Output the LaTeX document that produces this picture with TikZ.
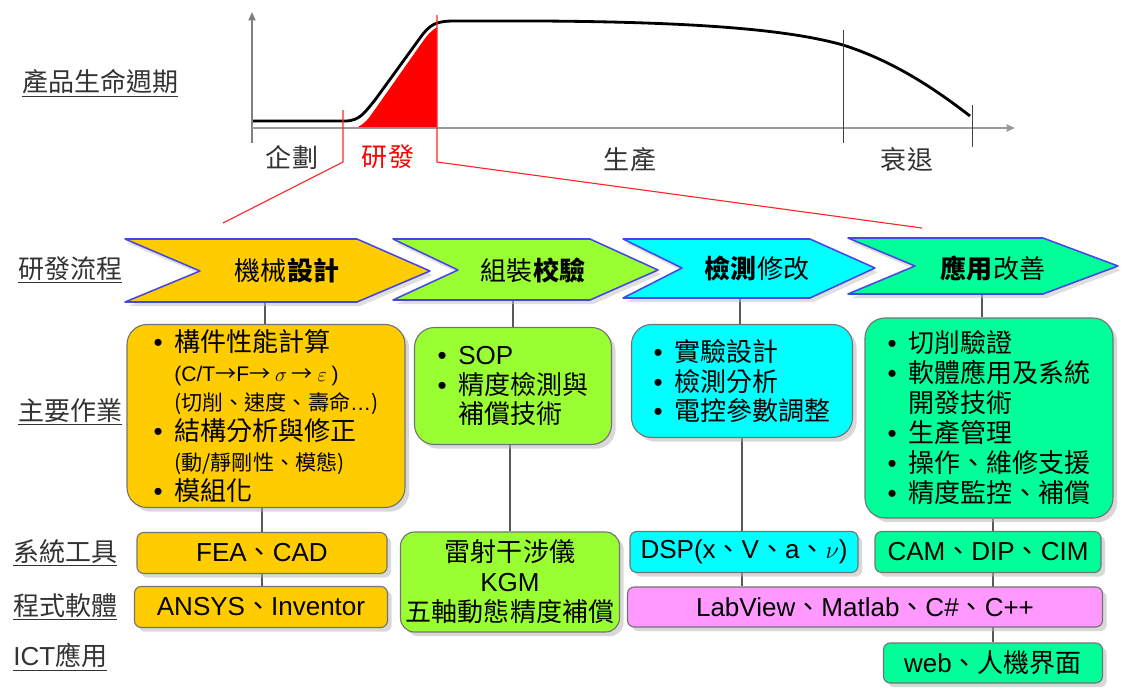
\documentclass[tikz,border=0pt]{standalone}
\usepackage{fontspec}
\setmainfont{Noto Sans CJK TC}
\newfontfamily\lat{Liberation Sans}
\usepackage{tikz}
\usetikzlibrary{shadows,arrows.meta,backgrounds}
\definecolor{cYel}{HTML}{FFCC00}
\definecolor{cLime}{HTML}{99FF33}
\definecolor{cCyan}{HTML}{00FFFF}
\definecolor{cMint}{HTML}{00FF99}
\definecolor{cPink}{HTML}{FF99FF}
\definecolor{cEdge}{HTML}{4646E6}
\tikzset{
	task/.style={draw=black!55,line width=0.8pt,rounded corners=0.5cm,inner sep=0pt,align=left,drop shadow={shadow xshift=3pt,shadow yshift=-3pt,fill=black!30}},
	tool/.style={task,rounded corners=0.17cm,align=center},
	sz/.style 2 args={minimum width=#1*0.025cm,minimum height=#2*0.025cm},
	chev/.style={draw=cEdge,line width=1.1pt,line join=round,drop shadow={shadow xshift=2pt,shadow yshift=-3pt,fill=black!25}},
	side/.style={anchor=west,inner sep=0pt,text=black!80},
	stage/.style={text=black!80},
	link/.style={draw=black!65,line width=0.8pt},
	zoomline/.style={draw=red!85,line width=0.8pt}
}
\newcommand\bul{\makebox[0.8em][l]{\lat •}}
\newcommand\indt{\makebox[0.8em]{}}
\newcommand\smtxt[1]{{\fontsize{15}{21.3}\selectfont #1}}

\begin{document}
\begin{tikzpicture}[x=0.025cm,y=-0.025cm,font=\fontsize{18.5}{21.3}\selectfont]
	\useasboundingbox (0,0) rectangle (1121,691);

	\draw[gray,line width=1.2pt,-{Triangle[length=6pt,width=5pt]}] (252,143) -- (252,12);
	\draw[gray!80,line width=1.6pt,-{Triangle[length=6pt,width=5pt]}] (252,128) -- (1015,128);
	\fill[red] (358,127) .. controls (366,122) .. (376,108) -- (421,44) .. controls (429,33) .. (437,27) -- (437,127) -- cycle;
	\draw[line width=2pt] (253,121) -- (345,121) .. controls (360,121) and (365,112) .. (375,100) -- (420,38) .. controls (430,24) and (436,21) .. (455,21) -- (540,21) .. controls (700,22) and (790,30) .. (843,45) .. controls (890,60) and (930,85) .. (970,116);
	\draw[black!75] (843,30) -- (843,143);
	\draw[black!75] (972,105) -- (972,147);
	\draw[zoomline] (343,110) -- (343,162) -- (223,223);
	\draw[zoomline] (437,15) -- (437,162) -- (922,228);

	\node[stage] (plan) at (292,157) {企劃};
	\node[stage,text=red] (rd) at (388,157) {研發};
	\node[stage] (prod) at (630,160) {生產};
	\node[stage] (decl) at (907,160) {衰退};

	\node[side] (lcyc) at (22,83) {\underline{產品生命週期}};
	\node[side] (lflow) at (18,270) {\underline{研發流程}};
	\node[side] (lwork) at (18,412) {\underline{主要作業}};
	\node[side] (ltool) at (13,553) {\underline{系統工具}};
	\node[side] (lsoft) at (13,607) {\underline{程式軟體}};
	\node[side] (lict) at (13,657) {\underline{{\lat ICT}應用}};

	\path[chev,fill=cYel] (125,239) -- (357,239) -- (430,271) -- (357,302) -- (125,302) -- (200,271) -- cycle;
	\path[chev,fill=cLime] (393,239) -- (590,239) -- (658,270) -- (590,300) -- (393,300) -- (458,270) -- cycle;
	\path[chev,fill=cCyan] (623,239) -- (810,239) -- (875,268) -- (810,298) -- (623,298) -- (682,268) -- cycle;
	\path[chev,fill=cMint] (848,238) -- (1043,238) -- (1118,266) -- (1043,294) -- (848,294) -- (915,266) -- cycle;
	\node (chA) at (287,271) {機械\textbf{設計}};
	\node (chB) at (533,270) {組裝\textbf{校驗}};
	\node (chC) at (757,268) {\textbf{檢測}修改};
	\node (chD) at (993,268) {\textbf{應用}改善};
	\coordinate (chAb) at (265,302);
	\coordinate (chBb) at (513,300);
	\coordinate (chCb) at (740,298);
	\coordinate (chDb) at (982,294);

	\node[task,fill=cYel,sz={278}{183}] (boxA) at (266,416) {\bul 構件性能計算\\\indt\smtxt{{\lat (C/T}→{\lat F}→ $\sigma$ → $\varepsilon$ {\lat )}}\\\indt\smtxt{(切削、速度、壽命{\lat …})}\\\bul 結構分析與修正\\\indt\smtxt{(動/靜剛性、模態)}\\\bul 模組化};
	\node[task,fill=cLime,sz={197}{117}] (boxB) at (513,386) {\bul {\lat SOP}\\\bul 精度檢測與\\\indt 補償技術};
	\node[task,fill=cCyan,sz={221}{113}] (boxC) at (742,381) {\bul 實驗設計\\\bul 檢測分析\\\bul 電控參數調整};
	\node[task,fill=cMint,sz={248}{200}] (boxD) at (989,418) {\bul 切削驗證\\\bul 軟體應用及系統\\\indt 開發技術\\\bul 生產管理\\\bul 操作、維修支援\\\bul 精度監控、補償};

	\node[tool,fill=cYel,sz={250}{41}] (fea) at (262,553) {{\lat FEA}、{\lat CAD}};
	\node[tool,fill=cYel,sz={253}{41}] (ansys) at (261,607) {{\lat ANSYS}、{\lat Inventor}};
	\node[tool,fill=cLime,sz={219}{100},rounded corners=0.35cm] (laser) at (510,582) {雷射干涉儀\\{\lat KGM}\\五軸動態精度補償};
	\node[tool,fill=cCyan,sz={228}{41}] (dsp) at (744,552) {{\lat DSP(x}、{\lat V}、{\lat a}、$\nu${\lat )}};
	\node[tool,fill=cMint,sz={226}{41}] (cam) at (988,552) {{\lat CAM}、{\lat DIP}、{\lat CIM}};
	\node[tool,fill=cPink,sz={475}{40}] (soft) at (865,607) {{\lat LabView}、{\lat Matlab}、{\lat C\#}、{\lat C++}};
	\node[tool,fill=cMint,sz={219}{40}] (web) at (993,663) {{\lat web}、人機界面};

	\begin{scope}[on background layer]
		\draw[link] (chAb) -- (chAb |- boxA.north);
		\draw[link] (chBb) -- (chBb |- boxB.north);
		\draw[link] (chCb) -- (chCb |- boxC.north);
		\draw[link] (chDb) -- (chDb |- boxD.north);
		\draw[link] (boxA.south -| fea) -- (ansys.north -| fea);
		\draw[link] (boxB.south -| laser) -- (laser.north);
		\draw[link] (boxC.south) -- (boxC.south |- soft.north);
		\draw[link] (boxD.south -| web) -- (web.north);
	\end{scope}
\end{tikzpicture}
\end{document}
